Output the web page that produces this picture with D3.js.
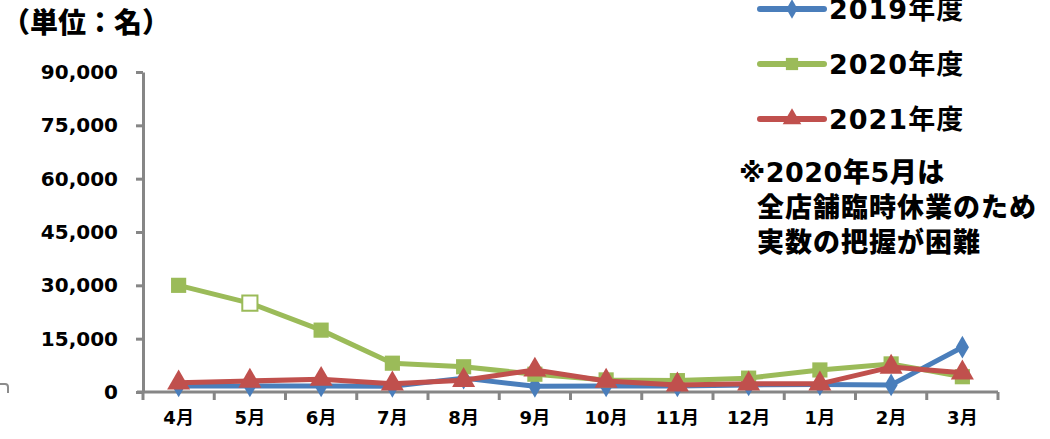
<!DOCTYPE html>
<html>
<head>
<meta charset="utf-8">
<script src="https://cdn.jsdelivr.net/npm/d3@7"></script>
<style>
  body { margin: 0; background: #fff; }
  svg { display: block; font-family: "DejaVu Sans", "Noto Sans CJK JP", sans-serif; font-weight: bold; }
</style>
</head>
<body>
<div class="chart"></div>
<script>
var months = ["4月", "5月", "6月", "7月", "8月", "9月", "10月", "11月", "12月", "1月", "2月", "3月"];
var yTicks = [0, 15000, 30000, 45000, 60000, 75000, 90000];
var fy2019 = [1700, 1700, 1700, 1600, 3900, 1600, 1700, 1700, 2000, 2100, 2000, 12600];
var fy2020 = [30000, 25000, 17400, 8100, 7100, 5000, 3400, 3200, 3900, 6200, 7900, 4300];
var fy2021 = [2600, 3100, 3600, 2300, 3300, 6200, 3100, 2000, 2300, 2300, 7000, 5400];
var seriesNames = ["2019年度", "2020年度", "2021年度"];
var noteLines = ["※2020年5月は", "全店舗臨時休業のため", "実数の把握が困難"];

var W = 1050, H = 439;
var colors = ["#4a7ebb", "#9bbb59", "#c0504d"];
var shapes = [d3.symbolDiamond, d3.symbolSquare, d3.symbolTriangle];
var sizes = [150, 230, 230];

var svg = d3.select(".chart").append("svg").attr("width", W).attr("height", H);

var x = d3.scaleBand().domain(months).range([143, 998]);
var y = d3.scaleLinear().domain([0, 90000]).range([392, 72]);

// y axis
var y_g = svg.append("g")
    .attr("transform", "translate(143,0)")
    .call(d3.axisLeft(y).tickValues(yTicks).tickSize(7).tickSizeOuter(0).tickPadding(18)
        .tickFormat(d3.format(",")));
y_g.select(".domain").attr("stroke", "#868686").attr("stroke-width", 3);
y_g.selectAll("line").attr("stroke", "#868686").attr("stroke-width", 3);
y_g.selectAll("text").attr("font-size", 20).attr("font-family", "DejaVu Sans").attr("fill", "#000").attr("font-weight", "bold");

// x axis with ticks between categories
var x_g = svg.append("g").attr("transform", "translate(0,392)");
x_g.append("line").attr("x1", 137).attr("x2", 998).attr("stroke", "#868686").attr("stroke-width", 3);
var bounds = months.map(function (m) { return x(m); }).concat([x.range()[1]]);
x_g.selectAll(".tk").data(bounds).enter().append("line")
    .attr("x1", function (d) { return d; }).attr("x2", function (d) { return d; })
    .attr("y1", 0).attr("y2", 8)
    .attr("stroke", "#868686").attr("stroke-width", 3);
x_g.selectAll(".lb").data(months).enter().append("text")
    .attr("x", function (d) { return x(d) + x.bandwidth() / 2; })
    .attr("y", 32)
    .attr("text-anchor", "middle")
    .attr("font-size", 18)
    .text(function (d) { return d; });

// series
var line = d3.line()
    .x(function (d, i) { return x(months[i]) + x.bandwidth() / 2; })
    .y(function (d) { return y(d); });

[fy2019, fy2020, fy2021].forEach(function (vals, s) {
    var g = svg.append("g");
    g.append("path").datum(vals)
        .attr("d", line)
        .attr("fill", "none")
        .attr("stroke", colors[s])
        .attr("stroke-width", 5)
        .attr("stroke-linejoin", "round");
    g.selectAll("path.m").data(vals).enter().append("path")
        .attr("class", "m")
        .attr("d", d3.symbol().type(shapes[s]).size(sizes[s]))
        .attr("transform", function (d, i) {
            return "translate(" + (x(months[i]) + x.bandwidth() / 2) + "," + y(d) + ")";
        })
        .attr("fill", function (d, i) { return (s === 1 && i === 1) ? "#fff" : colors[s]; })
        .attr("stroke", colors[s])
        .attr("stroke-width", function (d, i) { return (s === 1 && i === 1) ? 2 : 0; });
});

// unit label
svg.append("text").attr("x", 2).attr("y", 33)
    .attr("font-size", 28).attr("font-family", "Noto Sans CJK JP").attr("font-weight", 900)
    .text("（単位：名）");

// legend
var legY = [9, 64, 119];
seriesNames.forEach(function (name, s) {
    var g = svg.append("g").attr("transform", "translate(0," + legY[s] + ")");
    g.append("line").attr("x1", 760).attr("x2", 824)
        .attr("stroke", colors[s]).attr("stroke-width", 6).attr("stroke-linecap", "round");
    g.append("path").attr("d", d3.symbol().type(shapes[s]).size(s === 0 ? 110 : 150))
        .attr("transform", "translate(792,0)").attr("fill", colors[s]);
    g.append("text").attr("x", 829).attr("y", 10).attr("font-size", 27)
        .attr("letter-spacing", 1).text(name);
});

// note
noteLines.forEach(function (t, i) {
    svg.append("text").attr("x", i === 0 ? 739 : 757).attr("y", 182 + i * 35)
        .attr("font-size", 27).attr("letter-spacing", i === 0 ? 0.5 : 1)
        .style("font-weight", 900)
        .text(t);
});

// small cut-off corner at left edge
svg.append("path").attr("d", "M0,384 L5,384 Q8,384 8,387 L8,393")
    .attr("fill", "none").attr("stroke", "#8c8c8c").attr("stroke-width", 2);
</script>
</body>
</html>
